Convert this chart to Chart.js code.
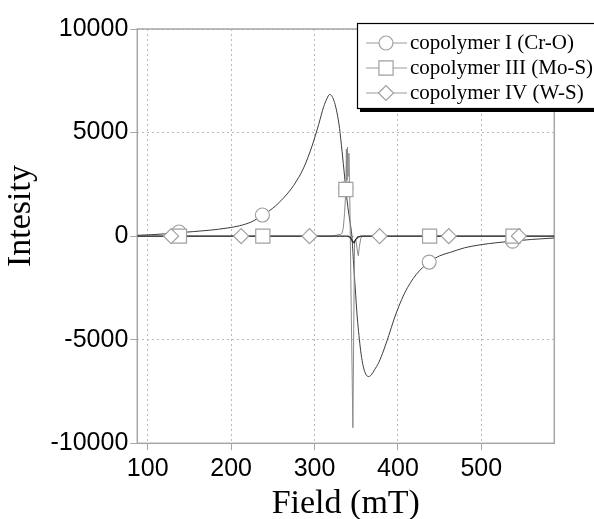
<!DOCTYPE html>
<html>
<head>
<meta charset="utf-8">
<script src="https://cdn.jsdelivr.net/npm/chart.js@4.4.1/dist/chart.umd.min.js"></script>
<style>
  html, body { margin: 0; padding: 0; background: #fff; }
  canvas { display: block; }
</style>
</head>
<body>
<canvas id="esr" width="594" height="519"></canvas>
<script>
// axis ticks
const xTicks = [100, 200, 300, 400, 500];
const yTicks = [-10000, -5000, 0, 5000, 10000];
const seriesNames = ["copolymer I (Cr-O)", "copolymer III (Mo-S)", "copolymer IV (W-S)"];

// copolymer I (Cr-O) - broad derivative line
const crField = [87.5, 105, 120, 137.5, 155, 175, 195, 210, 225, 237.5, 250, 263, 275, 287, 297, 305, 311, 315, 318, 321, 324, 327, 330, 333, 336, 338, 340, 342.5, 344.8, 346.8, 348.8, 350.8, 352.8, 354.8, 357, 359.5, 362, 365, 368, 372, 377, 383, 389, 395, 401, 408, 415, 422, 430, 437.5, 450, 463, 480, 500, 520, 537.5, 560, 587.5];
const crInt = [40, 70, 110, 170, 220, 290, 390, 500, 700, 1000, 1350, 1850, 2450, 3300, 4350, 5400, 6250, 6650, 6840, 6750, 6450, 5950, 5200, 4100, 2900, 2100, 1400, 700, 0, -1300, -2500, -3700, -4600, -5350, -6000, -6450, -6700, -6780, -6700, -6450, -6100, -5500, -4800, -4050, -3400, -2750, -2250, -1850, -1500, -1250, -950, -780, -560, -410, -310, -240, -160, -90];

// copolymer III (Mo-S) - narrow spikes around 340 mT
const moField = [87.5, 200, 320, 326, 329, 331, 333, 334.5, 336, 337.6, 338.2, 338.8, 339.5, 340.2, 341.2, 342.4, 344, 346, 347, 348, 349.5, 351, 352.5, 353.8, 355.5, 357.5, 587.5];
const moInt = [0, 0, 0, 40, 90, 60, 150, 400, 1100, 2250, 4200, 2700, 4300, 2900, 4000, 1500, -3500, -9250, -4500, -200, -150, -600, -950, -500, -100, 0, 0];

// copolymer IV (W-S) - almost flat
const wField = [87.5, 340, 343, 345.5, 347.5, 349.5, 352, 356, 587.5];
const wInt = [0, 0, -60, -250, -320, -150, -50, 0, 0];

// symbol positions
const crMarkField = [137.5, 237.5, 337.5, 437.5, 537.5];
const crMarkInt = [200, 1020, 2300, -1250, -240];
const moMarkField = [138, 238, 337.6, 438, 538];
const moMarkInt = [0, 0, 2250, 0, 0];
const wMarkField = [128, 212, 294, 378, 461, 545];
const wMarkInt = [0, 0, 0, 0, 0, 0];

const pts = (xs, ys) => xs.map((x, i) => ({ x: x, y: ys[i] }));

const markStroke = "#a0a0a0";
const styles = [
  { pointStyle: "circle", radius: 7 },
  { pointStyle: "rect", radius: 10 },
  { pointStyle: "rectRot", radius: 7.5 }
];

function markerSet(label, data, st) {
  return {
    label: label,
    data: data,
    showLine: false,
    pointStyle: st.pointStyle,
    pointRadius: st.radius,
    pointBackgroundColor: "#fff",
    pointBorderColor: markStroke,
    pointBorderWidth: 1.2
  };
}
function lineSet(label, data, color, width, smooth) {
  return {
    label: label,
    data: data,
    borderColor: color,
    borderWidth: width,
    pointRadius: 0,
    fill: false,
    cubicInterpolationMode: smooth ? "monotone" : "default",
    tension: 0
  };
}

// box around the plot
const frame = {
  id: "frame",
  beforeDatasetsDraw(chart) {
    const { ctx, chartArea: a } = chart;
    ctx.save();
    ctx.strokeStyle = "#a6a6a6";
    ctx.lineWidth = 1.5;
    ctx.strokeRect(a.left, a.top, a.right - a.left, a.bottom - a.top);
    // y title, sits a bit above the axis centre like the original
    ctx.translate(21.5, 216);
    ctx.rotate(-Math.PI / 2);
    ctx.fillStyle = "#000";
    ctx.font = "34px 'Liberation Serif', 'Times New Roman', serif";
    ctx.textAlign = "center";
    ctx.textBaseline = "middle";
    ctx.fillText("Intesity", 0, 0);
    ctx.restore();
  }
};

// legend box with shadow, drawn by hand
const boxLegend = {
  id: "boxLegend",
  afterDraw(chart) {
    const ctx = chart.ctx;
    const bx = 357, by = 23, bw = 245, bh = 85;
    ctx.save();
    ctx.fillStyle = "#000";
    ctx.fillRect(bx + 3, by + 4, bw, bh);
    ctx.fillStyle = "#fff";
    ctx.fillRect(bx, by, bw, bh);
    ctx.strokeStyle = "#000";
    ctx.lineWidth = 1.2;
    ctx.strokeRect(bx + 0.5, by + 0.5, bw, bh);
    ctx.font = "21px 'Liberation Serif', 'Times New Roman', serif";
    ctx.textBaseline = "middle";
    seriesNames.forEach((name, i) => {
      const y = 43 + i * 25;
      ctx.strokeStyle = "#9a9a9a";
      ctx.lineWidth = 1;
      ctx.beginPath();
      ctx.moveTo(366, y);
      ctx.lineTo(407, y);
      ctx.stroke();
      ctx.fillStyle = "#fff";
      ctx.strokeStyle = markStroke;
      ctx.lineWidth = 1.2;
      Chart.helpers.drawPoint(ctx, { pointStyle: styles[i].pointStyle, radius: styles[i].radius, borderWidth: 1.2 }, 386, y);
      ctx.fillStyle = "#000";
      ctx.fillText(name, 410, y);
    });
    ctx.restore();
  }
};

const tickFont = { family: "'Liberation Sans', Arial, sans-serif", size: 25 };
const plain = v => String(v);

new Chart(document.getElementById("esr"), {
  type: "line",
  data: {
    datasets: [
      markerSet(seriesNames[2], pts(wMarkField, wMarkInt), styles[2]),
      markerSet(seriesNames[1], pts(moMarkField, moMarkInt), styles[1]),
      markerSet(seriesNames[0], pts(crMarkField, crMarkInt), styles[0]),
      lineSet(seriesNames[2], pts(wField, wInt), "#2a2a2a", 1.3, false),
      lineSet(seriesNames[1], pts(moField, moInt), "#8a8a8a", 1, false),
      lineSet(seriesNames[0], pts(crField, crInt), "#3c3c3c", 1, true)
    ]
  },
  options: {
    responsive: false,
    animation: false,
    devicePixelRatio: 1,
    layout: { padding: { top: 29, right: 39.7, left: 0, bottom: 0 } },
    plugins: {
      legend: { display: false },
      tooltip: { enabled: false }
    },
    scales: {
      x: {
        type: "linear",
        min: 87.5,
        max: 587.5,
        afterBuildTicks: s => { s.ticks = xTicks.map(v => ({ value: v })); },
        afterFit: s => { s.height = 75.7; },
        ticks: { font: tickFont, color: "#000", padding: 4, maxRotation: 0, callback: plain },
        grid: { color: "#bababa", lineWidth: 1, tickLength: 7, tickColor: "#a6a6a6", tickBorderDash: [] },
        border: { display: false, dash: [2, 3] },
        title: {
          display: true,
          text: "Field (mT)",
          color: "#000",
          font: { family: "'Liberation Serif', 'Times New Roman', serif", size: 34, lineHeight: 1 },
          padding: { top: 0, bottom: -2 }
        }
      },
      y: {
        type: "linear",
        min: -10000,
        max: 10000,
        afterBuildTicks: s => { s.ticks = yTicks.map(v => ({ value: v })); },
        afterFit: s => { s.width = 137.3; },
        ticks: { font: tickFont, color: "#000", padding: 2, callback: plain },
        grid: { color: "#bababa", lineWidth: 1, tickLength: 7, tickColor: "#a6a6a6", tickBorderDash: [] },
        border: { display: false, dash: [2, 3] }
      }
    }
  },
  plugins: [frame, boxLegend]
});
</script>
</body>
</html>
